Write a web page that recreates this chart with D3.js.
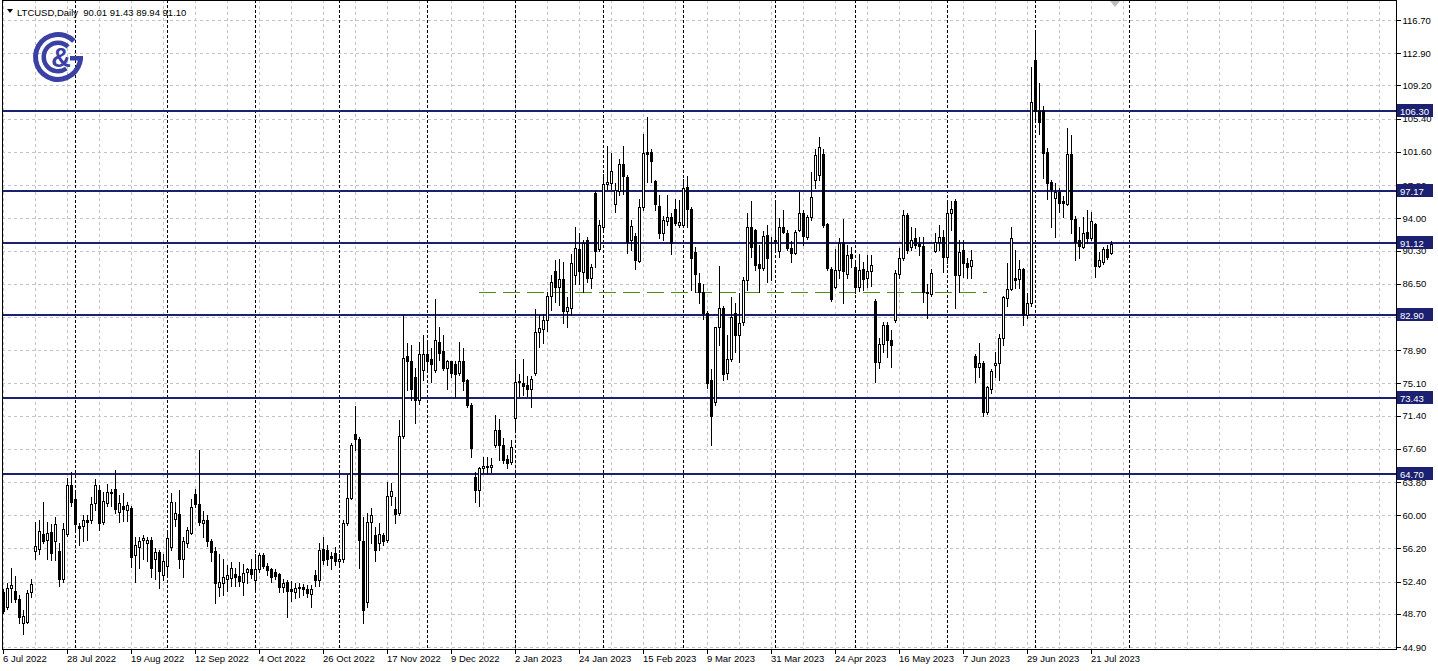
<!DOCTYPE html>
<html><head><meta charset="utf-8">
<script src="https://cdn.jsdelivr.net/npm/d3@7/dist/d3.min.js"></script>
<style>
html,body{margin:0;padding:0;background:#fff;overflow:hidden;}
svg{display:block;}
text{font-family:"Liberation Sans",Arial,sans-serif;}
</style></head><body>
<svg id="chart" width="1438" height="671"></svg>
<script>
// ---------------- data ----------------
const symbolTitle = "LTCUSD,Daily";
const lastQuote = ["90.01", "91.43", "89.94", "91.10"];

const open = [51.2,49.5,51.6,51.3,50.4,47.7,47.8,51.2,55.9,56.1,57.85,57.1,58.1,57.0,55.9,52.65,57.85,63.45,61.8,58.7,
58.7,59.5,59.44,61.4,62.9,59.25,61.35,62.6,62.95,60.4,61.0,60.6,60.8,55.4,56.4,57.15,56.8,57.2,55.0,55.8,
53.15,54.2,56.4,59.6,60.1,55.0,56.85,57.9,62.4,61.3,59.06,59.4,57.0,55.9,51.8,52.2,52.65,52.8,53.3,53.0,
52.4,53.5,53.8,52.6,53.8,55.45,54.2,53.8,53.5,53.25,51.8,52.3,51.5,51.25,51.6,51.75,51.5,51.0,53.1,52.6,
56.1,56.0,55.3,55.7,54.7,55.0,59.05,62.0,69.3,68.7,57.0,50.0,59.2,57.7,56.8,57.7,57.1,62.2,60.65,60.2,
69.05,78.2,77.7,75.8,73.2,76.6,78.45,77.85,76.6,79.85,78.85,76.8,77.6,77.3,76.3,77.6,75.45,72.6,64.4,62.9,
65.4,65.5,65.5,68.0,69.8,68.0,66.4,66.1,71.1,75.2,75.15,74.9,74.5,76.3,81.0,81.3,82.3,85.1,87.9,86.15,
87.0,83.4,83.7,87.5,90.45,87.8,91.45,87.2,96.85,90.45,93.05,97.9,98.0,95.6,97.15,100.2,98.75,91.45,91.95,89.15,
95.25,101.6,101.6,98.3,95.4,92.35,93.7,94.1,95.0,93.2,93.2,97.55,95.0,90.15,86.6,85.5,83.2,75.45,72.9,81.5,
83.7,76.25,77.85,83.2,80.6,82.15,86.95,93.0,92.7,88.75,88.25,92.1,89.5,91.4,90.3,93.0,92.35,90.55,90.05,92.65,
94.65,91.9,94.1,98.4,99.0,101.4,93.3,88.15,86.15,88.1,91.3,87.6,89.9,88.45,86.15,88.15,87.1,88.0,84.55,77.55,
79.6,81.75,80.05,82.4,87.6,89.4,94.35,90.65,91.7,91.1,90.8,85.6,85.3,90.3,91.3,91.9,89.6,94.65,96.0,87.5,
90.35,88.85,88.5,78.2,77.0,77.45,71.85,74.5,77.2,77.4,80.25,84.85,85.95,87.1,87.0,88.15,82.9,84.25,112.1,106.3,
106.4,101.6,98.2,96.3,97.0,96.0,95.6,101.35,93.9,91.5,90.75,92.45,91.7,93.35,88.55,89.0,90.45,90.01];

const high = [51.5,52.2,54.0,53.0,50.9,49.1,51.4,52.7,59.2,59.5,61.5,59.2,59.0,59.8,56.8,59.1,64.2,64.9,62.5,59.1,
60.0,60.0,62.1,64.1,63.45,62.7,63.6,63.0,65.2,62.3,62.5,61.5,61.0,57.5,57.5,57.7,57.5,57.5,56.2,56.0,
55.6,57.9,62.5,61.5,62.9,57.5,58.6,61.9,63.0,67.5,60.5,60.0,57.3,56.3,55.6,55.0,54.3,54.6,53.9,54.6,
54.4,54.0,55.0,55.5,55.7,55.7,54.5,53.9,53.8,53.4,52.7,52.6,52.5,52.2,52.2,52.1,52.0,52.0,53.7,56.8,
57.5,56.6,55.8,56.4,55.5,59.4,64.6,68.3,72.5,69.0,59.8,60.2,60.8,58.6,59.1,58.0,63.8,63.65,62.1,70.9,
82.9,79.7,79.5,76.8,79.85,80.6,80.05,79.1,84.8,81.6,80.6,77.8,77.7,77.6,79.85,79.1,75.6,72.8,64.95,65.5,
66.7,66.7,66.6,71.5,71.0,68.8,66.9,68.6,77.9,76.2,77.9,75.9,75.9,83.6,82.9,83.0,85.6,87.5,89.2,89.3,
89.0,85.0,89.9,93.0,92.3,91.5,91.8,88.8,97.1,93.8,99.1,102.3,101.5,98.0,100.75,102.3,98.9,93.8,92.3,96.2,
103.7,105.6,101.9,98.4,96.65,94.2,96.65,94.55,96.2,96.1,98.45,98.8,95.3,90.75,87.7,86.5,83.4,76.7,81.6,88.5,
83.9,80.6,85.0,84.3,85.4,87.3,94.55,96.0,92.8,90.9,92.5,93.2,91.8,95.9,94.0,94.9,92.6,91.4,92.6,97.0,
94.9,94.35,99.3,101.9,103.3,101.9,93.4,88.4,90.5,91.7,93.9,90.9,90.75,89.0,89.9,89.0,89.8,89.8,84.8,80.25,
82.15,82.1,81.2,88.1,90.55,94.95,94.55,93.0,92.85,91.9,91.9,86.5,88.15,92.3,93.2,92.65,95.8,96.0,96.2,91.45,
91.45,89.4,90.35,78.5,79.7,77.6,74.8,76.7,78.7,80.8,85.1,88.85,93.0,90.35,89.2,88.3,85.4,111.35,115.2,109.5,
106.8,102.0,98.4,98.0,97.5,96.6,104.3,103.5,94.2,93.0,94.15,94.9,94.75,93.4,90.15,90.7,90.9,91.43];

const low = [48.8,49.3,50.0,50.1,47.6,46.4,47.6,50.6,55.0,55.6,56.8,55.0,54.9,54.9,51.9,52.4,57.6,61.0,58.3,56.6,
57.0,57.2,59.1,60.6,58.3,59.0,61.0,61.0,60.2,59.25,59.3,59.3,54.1,52.3,53.9,55.0,54.8,52.95,52.65,51.7,
52.6,52.95,56.0,58.7,53.9,52.95,56.3,57.8,60.9,58.9,57.5,56.5,54.7,49.9,50.7,50.9,51.3,51.9,51.9,51.9,
50.85,52.2,52.75,51.4,53.5,54.0,53.15,52.3,52.7,51.2,51.2,48.3,50.2,50.5,50.6,50.8,50.6,49.5,51.9,51.9,
54.4,54.3,53.8,54.3,54.1,54.6,58.9,61.8,67.5,53.9,47.6,49.5,56.8,54.8,56.0,56.6,56.9,61.15,59.06,60.0,
68.8,74.3,73.2,70.5,72.7,75.5,76.6,75.3,76.4,77.75,76.6,74.5,75.8,73.55,76.1,74.3,72.4,66.7,61.55,61.0,
64.8,64.8,64.9,67.8,66.3,66.0,65.4,65.9,69.9,73.6,73.75,73.6,72.4,76.1,79.3,79.7,81.1,83.5,84.4,84.1,
82.0,81.5,82.9,86.5,86.5,85.5,86.7,86.0,88.45,90.2,92.8,97.4,97.4,94.75,96.65,96.8,90.0,90.35,88.15,89.0,
94.95,98.2,98.2,94.95,91.7,91.5,93.2,89.9,93.2,93.0,93.0,93.0,85.8,85.6,84.25,82.5,74.6,68.0,72.6,79.5,
75.5,75.6,77.7,78.7,77.5,81.8,85.8,89.6,88.1,85.5,88.1,86.7,86.9,90.5,89.6,92.3,90.4,89.0,89.9,92.5,
90.9,91.6,93.8,97.5,98.4,93.0,88.1,84.5,86.0,87.1,84.3,87.1,88.45,85.4,85.7,85.8,86.15,86.2,75.3,76.9,
78.7,78.1,77.0,82.15,87.1,89.2,90.0,90.35,90.55,89.8,84.45,82.55,85.1,90.1,90.35,87.8,88.85,92.65,83.7,85.6,
87.3,87.2,87.2,75.2,75.85,71.3,71.6,73.95,75.85,75.5,79.5,83.9,85.8,86.0,86.0,81.8,82.6,84.0,105.25,103.6,
98.55,96.15,93.0,91.9,94.75,94.1,95.5,92.35,89.2,89.5,90.6,91.2,91.5,87.3,88.4,88.8,89.3,89.94];

const close = [49.0,51.7,52.0,50.4,48.3,48.4,51.05,52.1,56.5,58.2,57.0,58.0,55.7,59.0,52.65,58.4,63.45,61.5,59.0,58.5,
59.4,59.2,61.3,63.45,59.1,61.65,62.6,62.5,60.7,61.4,60.75,61.15,55.2,56.6,57.0,57.4,57.2,54.0,55.8,53.6,
54.8,57.4,61.5,60.3,54.95,57.0,58.3,60.9,61.3,59.25,59.5,57.0,55.8,52.2,52.3,52.95,53.2,54.0,52.95,52.5,
53.4,53.8,53.3,53.8,55.45,54.2,53.7,52.9,53.0,51.8,52.2,51.35,51.35,51.6,51.75,51.5,51.05,51.5,52.55,56.0,
54.9,54.95,55.1,54.8,55.0,59.05,62.0,68.0,68.7,57.15,49.1,59.25,60.0,56.0,57.85,57.05,62.2,62.75,60.15,69.05,
78.05,77.7,74.4,73.2,78.45,78.45,77.7,77.3,80.05,78.6,76.8,77.6,76.25,76.15,77.7,75.4,72.6,67.65,62.9,65.35,
65.6,65.6,65.75,69.8,68.0,66.3,66.0,67.75,75.3,75.35,74.8,74.5,75.55,81.0,81.4,82.35,85.1,86.7,86.15,87.0,
83.4,83.8,88.85,90.55,88.0,91.2,87.1,88.45,90.3,93.2,97.9,98.15,99.4,97.25,100.2,98.85,91.3,93.1,89.2,95.25,
101.5,101.4,100.6,95.65,92.35,93.8,94.1,91.15,93.4,93.6,97.45,95.0,89.4,87.6,85.5,83.2,75.1,71.35,81.5,83.7,
76.15,77.85,82.65,80.6,82.0,86.95,93.0,90.65,88.65,88.25,91.95,89.4,89.4,91.5,93.0,92.45,90.55,90.0,92.45,94.65,
91.95,94.1,96.4,101.25,102.2,93.2,88.25,84.7,88.1,91.2,87.9,89.8,89.5,86.1,88.05,87.0,88.0,88.65,77.5,79.6,
81.75,80.0,79.5,87.7,89.4,94.35,90.35,91.5,90.95,90.8,85.6,85.4,87.7,91.3,91.9,89.6,94.65,95.0,87.5,90.15,
88.85,88.45,89.2,77.0,77.45,71.85,74.65,76.55,77.4,80.25,85.0,85.95,91.7,86.95,88.15,82.9,84.25,107.35,106.3,105.0,
101.5,98.05,97.3,97.0,95.8,95.7,101.35,93.9,91.3,90.8,92.35,91.7,93.7,88.55,89.2,90.45,89.6,91.10];

// horizontal support / resistance levels (price)
const levels = [106.30, 97.17, 91.12, 82.90, 73.43, 64.70];
// green dashed trend level: price and bar span
const greenLevel = 85.6;
const greenSpan = [118.9, 245.9];
// monthly period separators (bar index)
const monthStarts = [18, 41, 63, 84, 106, 128, 150, 170, 193, 213, 236, 258, 281.5];
// price axis ticks
const yTicks = [116.70, 112.90, 109.20, 105.40, 101.60, 97.80, 94.00, 90.30, 86.50, 82.70, 78.90, 75.10, 71.40, 67.60, 63.80, 60.00, 56.20, 52.40, 48.70, 44.90];
// time axis labels (every 16 bars)
const dateLabels = ["6 Jul 2022","28 Jul 2022","19 Aug 2022","12 Sep 2022","4 Oct 2022","26 Oct 2022","17 Nov 2022","9 Dec 2022","2 Jan 2023","24 Jan 2023","15 Feb 2023","9 Mar 2023","31 Mar 2023","24 Apr 2023","16 May 2023","7 Jun 2023","29 Jun 2023","21 Jul 2023"];
const labelBars = dateLabels.map((d, i) => i * 16);

// ---------------- drawing ----------------
const W = 1438, H = 671;
const plot = {left: 2, right: 1396, top: 0, bottom: 649};
const svg = d3.select("#chart");
const x = d3.scaleLinear().domain([0, 277]).range([3.5, 1111.5]);
const y = d3.scaleLinear().domain([44.9, 116.7]).range([647, 20]);
const navy = "#1b2170";
const fontSize = "9.5px";

const g = svg.append("g");
// grid
const gridBars = d3.range(0, 350, 8).filter(b => x(b) < plot.right);
g.append("g").selectAll("line").data(gridBars).join("line")
  .attr("x1", d => x(d)).attr("x2", d => x(d))
  .attr("y1", plot.top).attr("y2", plot.bottom)
  .attr("stroke", "#c4c4c4").attr("stroke-dasharray", "3,3").attr("shape-rendering", "crispEdges");
g.append("g").selectAll("line").data(yTicks).join("line")
  .attr("x1", plot.left).attr("x2", plot.right)
  .attr("y1", d => Math.round(y(d)) + 0.5).attr("y2", d => Math.round(y(d)) + 0.5)
  .attr("stroke", "#c4c4c4").attr("stroke-dasharray", "3,3").attr("shape-rendering", "crispEdges");
// month separators
g.append("g").selectAll("line").data(monthStarts).join("line")
  .attr("x1", d => Math.round(x(d) - 0.5) + 0.5).attr("x2", d => Math.round(x(d) - 0.5) + 0.5)
  .attr("y1", plot.top).attr("y2", plot.bottom)
  .attr("stroke", "#000").attr("stroke-dasharray", "3,2").attr("shape-rendering", "crispEdges");

// levels
g.append("g").selectAll("line").data(levels).join("line")
  .attr("x1", plot.left).attr("x2", plot.right)
  .attr("y1", d => Math.round(y(d))).attr("y2", d => Math.round(y(d)))
  .attr("stroke", navy).attr("stroke-width", 2).attr("shape-rendering", "crispEdges");
// green dashed level
g.append("line")
  .attr("x1", x(greenSpan[0])).attr("x2", x(greenSpan[1]))
  .attr("y1", Math.round(y(greenLevel)) + 0.5).attr("y2", Math.round(y(greenLevel)) + 0.5)
  .attr("stroke", "#4d8f1a").attr("stroke-dasharray", "17,7").attr("shape-rendering", "crispEdges");

// candles
const bars = open.map((o, i) => ({i, o, h: high[i], l: low[i], c: close[i]}));
const cg = g.append("g").attr("shape-rendering", "crispEdges");
cg.selectAll("line.wick").data(bars).join("line").attr("class", "wick")
  .attr("x1", d => x(d.i)).attr("x2", d => x(d.i))
  .attr("y1", d => Math.round(y(d.h))).attr("y2", d => Math.round(y(d.l)) + 1)
  .attr("stroke", "#000");
cg.selectAll("rect.body").data(bars).join("rect").attr("class", "body")
  .attr("x", d => x(d.i) - 1)
  .attr("y", d => Math.round(y(Math.max(d.o, d.c))) + 0.5)
  .attr("width", 2)
  .attr("height", d => Math.max(0, Math.round(y(Math.min(d.o, d.c))) - Math.round(y(Math.max(d.o, d.c)))))
  .attr("fill", d => d.c >= d.o ? "#fff" : "#000")
  .attr("stroke", "#000");

// frame
svg.append("rect").attr("x", plot.left + 0.5).attr("y", plot.top + 0.5)
  .attr("width", plot.right - plot.left).attr("height", plot.bottom - plot.top)
  .attr("fill", "none").attr("stroke", "#000").attr("shape-rendering", "crispEdges");

// right axis
const yAxis = svg.append("g").attr("transform", `translate(${plot.right + 0.5},0)`)
  .call(d3.axisRight(y).tickValues(yTicks).tickFormat(d3.format(".2f")).tickSize(4).tickPadding(2));
yAxis.select(".domain").remove();
yAxis.selectAll("line").attr("stroke", "#000").attr("shape-rendering", "crispEdges");
yAxis.selectAll("text").attr("font-size", fontSize).attr("fill", "#000").attr("font-family", "Liberation Sans, Arial, sans-serif");

// level labels
const lv = svg.append("g");
lv.selectAll("rect").data(levels).join("rect")
  .attr("x", plot.right + 1).attr("y", d => Math.round(y(d)) - 7).attr("width", 36).attr("height", 13)
  .attr("fill", navy);
lv.selectAll("text").data(levels).join("text")
  .attr("x", plot.right + 4).attr("y", d => Math.round(y(d)) + 3.5)
  .attr("font-size", fontSize).attr("fill", "#fff").text(d => d.toFixed(2));

// bottom axis
const xAxis = svg.append("g").attr("transform", `translate(0,${plot.bottom + 0.5})`)
  .call(d3.axisBottom(x).tickValues(labelBars).tickFormat((d, i) => dateLabels[i]).tickSize(4));
xAxis.select(".domain").remove();
xAxis.selectAll("line").attr("stroke", "#000").attr("shape-rendering", "crispEdges")
  .attr("transform", "translate(-1,0)");
xAxis.selectAll("text").attr("text-anchor", "start").attr("x", -1).attr("y", 6).attr("dy", "0.71em")
  .attr("font-size", fontSize).attr("fill", "#000").attr("font-family", "Liberation Sans, Arial, sans-serif");

// header
svg.append("path").attr("d", "M7,9 L13,9 L10,13 Z").attr("fill", "#000");
svg.append("text").attr("x", 17).attr("y", 15.5).attr("font-size", fontSize).attr("fill", "#000")
  .text(symbolTitle + "  " + lastQuote.join(" ")).attr("xml:space", "preserve").style("white-space", "pre");

// chart shift marker
svg.append("path").attr("d", "M1110,1 L1120,1 L1115,7 Z").attr("fill", "#bdbdbd");

// logo
const logoCol = "#3b40a4";
const logo = svg.append("g").attr("transform", "translate(58,57)");
const arc = d3.arc();
logo.append("path").attr("d", arc({innerRadius: 20, outerRadius: 25, startAngle: Math.PI / 2, endAngle: 2 * Math.PI + Math.PI / 4})).attr("fill", logoCol);
logo.append("path").attr("d", arc({innerRadius: 12, outerRadius: 16.5, startAngle: Math.PI * 0.8, endAngle: 2 * Math.PI + Math.PI / 4})).attr("fill", logoCol);
logo.append("rect").attr("x", 12).attr("y", -1).attr("width", 13).attr("height", 4.5).attr("fill", logoCol);
logo.append("text").attr("x", 3).attr("y", 10).attr("text-anchor", "middle")
  .attr("font-size", "27px").attr("font-weight", "bold").attr("fill", logoCol)
  .attr("font-family", "Liberation Sans, Arial, sans-serif").text("&");
</script>
</body></html>
